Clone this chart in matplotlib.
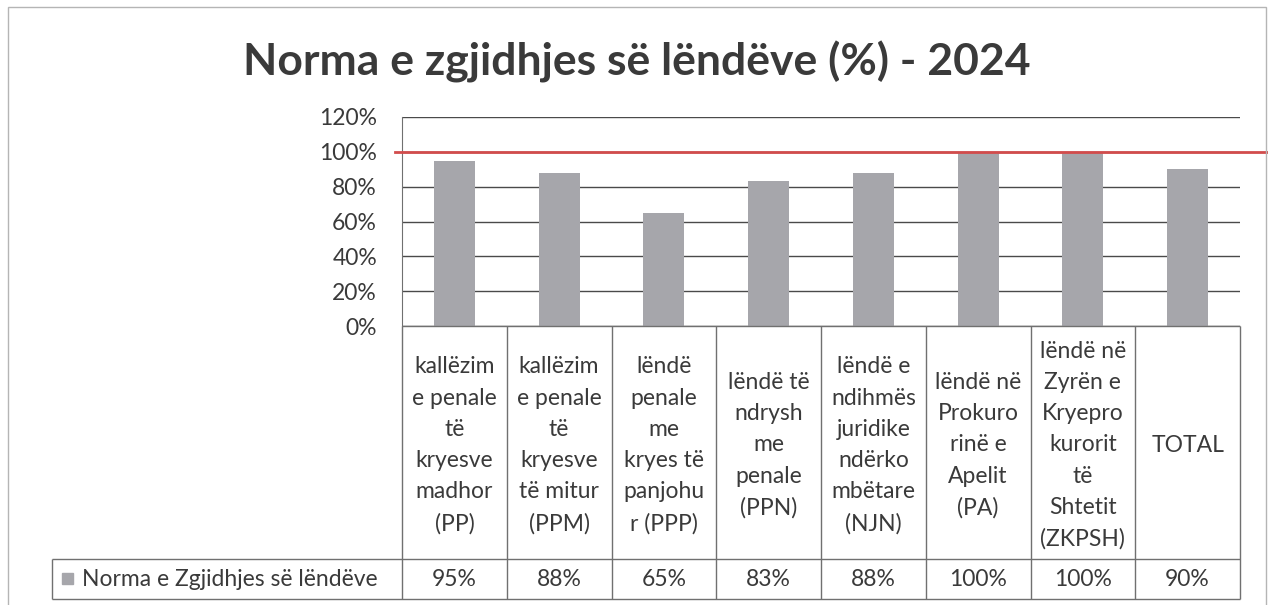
import matplotlib
matplotlib.use("Agg")
import matplotlib.pyplot as plt
from matplotlib.patches import Rectangle

plt.rcParams['font.family'] = ['Lato', 'DejaVu Sans']

# --- DATA ---
TITLE = "Norma e zgjidhjes së lëndëve (%) - 2024"
SERIES = "Norma e Zgjidhjes së lëndëve"
categories = [
    "kallëzim\ne penale\ntë\nkryesve\nmadhor\n(PP)",
    "kallëzim\ne penale\ntë\nkryesve\ntë mitur\n(PPM)",
    "lëndë\npenale\nme\nkryes të\npanjohu\nr (PPP)",
    "lëndë të\nndrysh\nme\npenale\n(PPN)",
    "lëndë e\nndihmës\njuridike\nndërko\nmbëtare\n(NJN)",
    "lëndë në\nProkuro\nrinë e\nApelit\n(PA)",
    "lëndë në\nZyrën e\nKryepro\nkurorit\ntë\nShtetit\n(ZKPSH)",
    "TOTAL",
]
values = [95, 88, 65, 83, 88, 100, 100, 90]
target = 100
yticks = [0, 20, 40, 60, 80, 100, 120]

# --- STYLE ---
W, H = 1268, 605
BAR = '#a6a6ab'
TXT = '#3a3a3a'
LINE = '#707070'
FS = 16.5


def fx(px):
    return px / W


def fy(py):
    return 1 - py / H


fig = plt.figure(figsize=(W / 100, H / 100), dpi=100)

# outer chart frame
fig.patches.append(Rectangle((fx(8), fy(610)), fx(1266) - fx(8), fy(7) - fy(610),
                             transform=fig.transFigure, fill=False,
                             edgecolor='#b5b5b5', lw=1))

fig.text(fx(637), fy(62), TITLE, ha='center', va='center',
         fontsize=32, fontweight='bold', color=TXT)

# plot area
left, right, top, zero, bottom = 402, 1240, 117, 326, 599
ax = fig.add_axes([fx(left), fy(zero), fx(right) - fx(left), fy(top) - fy(zero)])
x = list(range(len(values)))
ax.bar(x, values, width=0.39, color=BAR, zorder=2)
ax.set_xlim(-0.5, len(values) - 0.5)
ax.set_ylim(0, 120)
ax.set_yticks(yticks)
ax.yaxis.set_major_formatter(lambda v, p: f"{v:.0f}%")
ax.tick_params(axis='y', length=0, pad=18, labelsize=16.5, labelcolor=TXT)
ax.set_xticks([])
ax.grid(axis='y', color='#4a4a4a', lw=1)
ax.set_axisbelow(True)
for s in ['top', 'right', 'bottom']:
    ax.spines[s].set_visible(False)
ax.spines['left'].set_color(LINE)
ax.patch.set_alpha(0)

# target line at 100%
ax.axhline(target, xmin=(395 - left) / (right - left), xmax=(W - left) / (right - left),
           color='#d24c4c', lw=2, clip_on=False, zorder=3)

# data table below
tab = fig.add_axes([fx(left), fy(bottom), fx(right) - fx(left), fy(zero) - fy(bottom)])
tab.set_xlim(-0.5, len(values) - 0.5)
tab.set_ylim(1, 0)
tab.axis('off')
split = (559 - zero) / (bottom - zero)
cell_w = (right - left) / len(values)
leg_left = -0.5 - (left - 52) / cell_w

tab.vlines([i - 0.5 for i in range(len(values) + 1)], 0, 1, color=LINE, lw=1, clip_on=False)
tab.vlines([leg_left], split, 1, color=LINE, lw=1, clip_on=False)
tab.hlines([split, 1], leg_left, len(values) - 0.5, color=LINE, lw=1, clip_on=False)
tab.hlines([0], -0.5, len(values) - 0.5, color=LINE, lw=1, clip_on=False)

for i, (cat, v) in enumerate(zip(categories, values)):
    tab.text(i, split / 2 + 0.01, cat, ha='center', va='center', fontsize=FS,
             linespacing=1.6, color=TXT)
    tab.text(i, (split + 1) / 2, f"{v}%", ha='center', va='center',
             fontsize=FS, color=TXT)

fig.patches.append(Rectangle((fx(62), fy(584)), 11 / W, 11 / H,
                             transform=fig.transFigure, color=BAR))
fig.text(fx(82), fy(579), SERIES, ha='left', va='center', fontsize=FS, color=TXT)

fig.savefig("out.png", dpi=100)
